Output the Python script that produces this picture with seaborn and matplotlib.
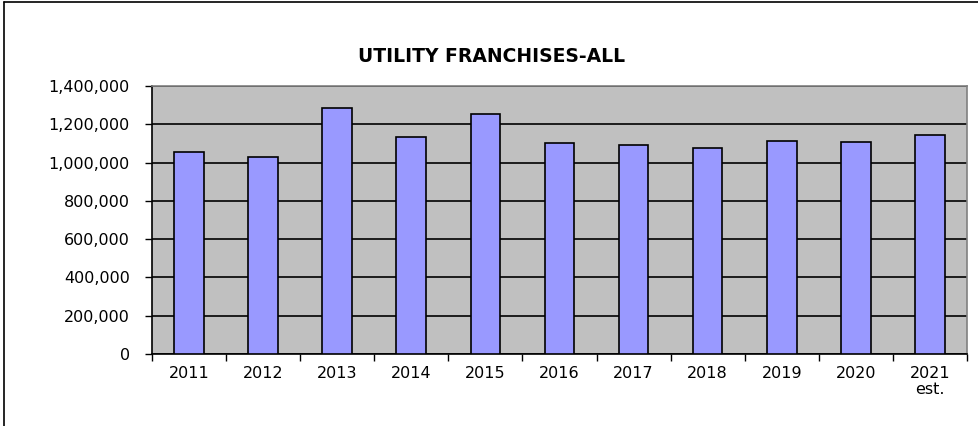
import matplotlib.pyplot as plt
import matplotlib.ticker as mticker
import numpy as np
import pandas as pd
import seaborn as sns

years = ["2011", "2012", "2013", "2014", "2015", "2016",
         "2017", "2018", "2019", "2020", "2021\nest."]
revenue = [1057000, 1030000, 1287000, 1135000, 1255000, 1101000,
           1092000, 1075000, 1113000, 1106000, 1143000]

df = pd.DataFrame({"year": years, "revenue": revenue})

sns.set_style("white")
plt.rcParams["font.family"] = ["DejaVu Sans"]
plt.rcParams["text.color"] = "black"
plt.rcParams["xtick.color"] = "black"
plt.rcParams["ytick.color"] = "black"

fig = plt.figure(figsize=(9.79, 4.26), dpi=100)
ax = fig.add_axes([152 / 979, 1 - 354 / 426, (967 - 152) / 979, (354 - 86) / 426])
ax.set_facecolor("#C0C0C0")

sns.barplot(data=df, x="year", y="revenue", color="#9999FF", width=0.4,
            edgecolor="black", linewidth=1.2, saturation=1, ax=ax, zorder=3)

ax.set_ylim(0, 1400000)
ax.set_xlim(-0.5, len(years) - 0.5)
ax.yaxis.set_major_locator(mticker.MultipleLocator(200000))
ax.yaxis.set_major_formatter(mticker.FuncFormatter(lambda v, p: f"{int(v):,}"))
ax.grid(axis="y", color="black", linewidth=1.2, zorder=1)
ax.set_axisbelow(True)

ax.set_xlabel("")
ax.set_ylabel("")
ax.tick_params(axis="y", which="major", length=5, width=1, color="black",
               labelcolor="black", labelsize=11.5, pad=11, left=True)
ax.tick_params(axis="x", which="major", length=0, labelcolor="black",
               labelsize=11.5, pad=9)
ax.set_xticks(np.arange(-0.5, len(years)), minor=True)
ax.tick_params(axis="x", which="minor", length=5, width=1, color="black", bottom=True)
for lbl in ax.get_xticklabels():
    lbl.set_linespacing(1.0)

for side in ["left", "bottom"]:
    ax.spines[side].set_color("black")
    ax.spines[side].set_linewidth(1.2)
for side in ["top", "right"]:
    ax.spines[side].set_color("#808080")
    ax.spines[side].set_linewidth(1.2)

fig.text(492 / 979, 1 - 56.5 / 426, "UTILITY FRANCHISES-ALL", ha="center", va="center",
         fontsize=13.5, fontweight="bold", color="black")

# outer chart frame (cropped)
fig.add_artist(plt.Line2D([4.5 / 979, 1], [1 - 1.5 / 426, 1 - 1.5 / 426],
                          color="black", linewidth=1.2, transform=fig.transFigure))
fig.add_artist(plt.Line2D([4.5 / 979, 4.5 / 979], [0, 1 - 1.5 / 426],
                          color="black", linewidth=1.2, transform=fig.transFigure))

fig.savefig("out.png", dpi=100)
